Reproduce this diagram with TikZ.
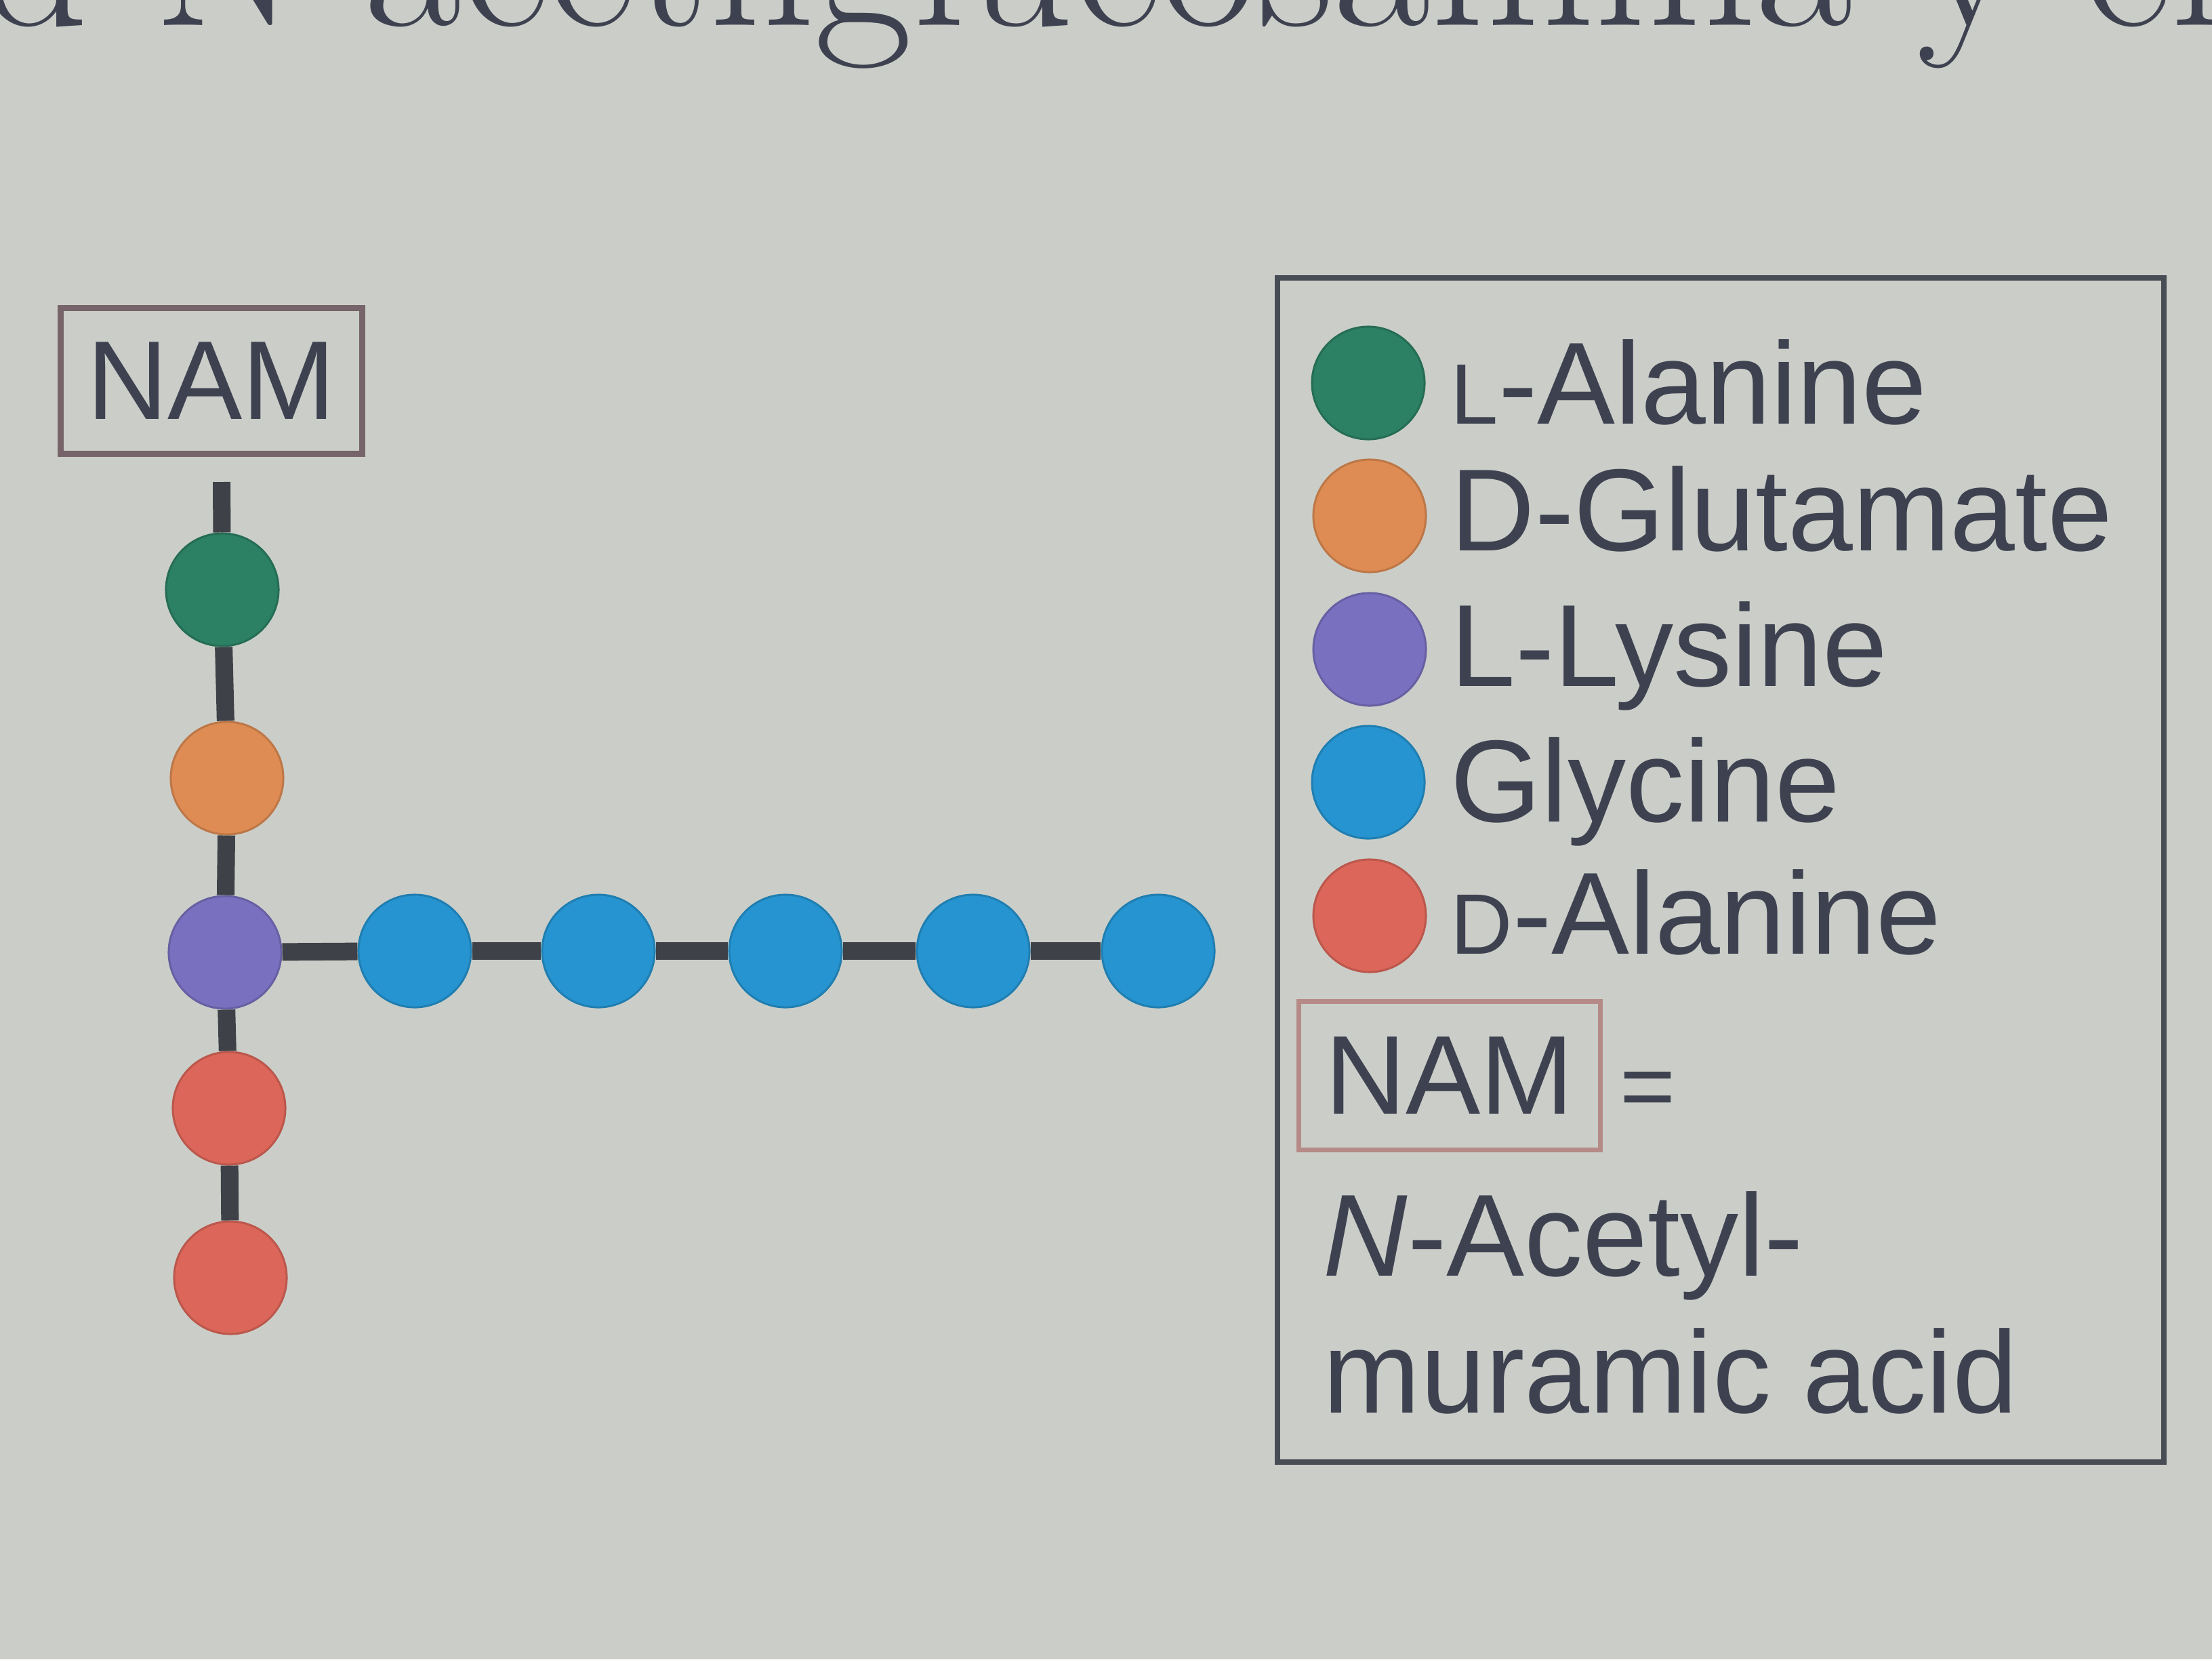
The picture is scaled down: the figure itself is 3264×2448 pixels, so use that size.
\documentclass[tikz,border=0pt]{standalone}
\usepackage{fontspec}
\newfontfamily\arialf{Liberation Sans}
\newcommand\labfont{\arialf\fontsize{49}{55}\selectfont}
\newcommand\namfont{\arialf\fontsize{47}{52}\selectfont}
\newcommand\smallcap[1]{{\fontsize{36}{36}\selectfont #1}}
\definecolor{bgc}{RGB}{203,206,200}
\definecolor{txt}{RGB}{62,66,80}
\definecolor{bondc}{RGB}{62,66,72}
\definecolor{cGreen}{RGB}{44,128,100}
\definecolor{cOrange}{RGB}{222,140,84}
\definecolor{cPurple}{RGB}{122,112,192}
\definecolor{cBlue}{RGB}{38,148,208}
\definecolor{cRed}{RGB}{220,102,90}
\definecolor{namA}{RGB}{118,100,106}
\definecolor{namB}{RGB}{182,138,134}
\definecolor{legc}{RGB}{72,76,84}
\begin{document}
\begin{tikzpicture}[x=0.01cm,y=-0.01cm,
  bond/.style={line width=0.26cm, draw=bondc},
  amino/.style={circle, minimum size=1.66cm, inner sep=0pt, line width=0.03cm},
  lab/.style={anchor=base west, inner sep=0pt, text=txt, font=\labfont},
  nambox/.style={draw, line width=0.09cm, minimum width=4.45cm, minimum height=2.15cm, inner sep=0pt, text=txt, font=\namfont},
  legbox/.style={draw=legc, line width=0.08cm, minimum width=13.08cm, minimum height=17.46cm, inner sep=0pt}]
\useasboundingbox (0,0) rectangle (3264,2448);
\fill[bgc] (0,0) rectangle (3264,2448);
\begin{scope}
\clip (0,0) rectangle (3264,2448);
\node[anchor=base west, inner sep=0pt, text=txt, font=\fontsize{89}{98}\selectfont] (head) at (-189,37) {nd N-acetilglucosamina y el};
\end{scope}
% peptide
\node[nambox, draw=namA] (nam) at (312,562) {NAM};
\coordinate (namlink) at (327,711);
\node[amino, fill=cGreen, draw=cGreen!85!black] (ala) at (328,870) {};
\node[amino, fill=cOrange, draw=cOrange!85!black] (glu) at (335,1148) {};
\node[amino, fill=cPurple, draw=cPurple!85!black] (lys) at (332,1405) {};
\node[amino, fill=cRed, draw=cRed!85!black] (dala1) at (338,1635) {};
\node[amino, fill=cRed, draw=cRed!85!black] (dala2) at (340,1885) {};
\node[amino, fill=cBlue, draw=cBlue!85!black] (gly1) at (612,1403) {};
\node[amino, fill=cBlue, draw=cBlue!85!black] (gly2) at (883,1403) {};
\node[amino, fill=cBlue, draw=cBlue!85!black] (gly3) at (1159,1403) {};
\node[amino, fill=cBlue, draw=cBlue!85!black] (gly4) at (1436,1403) {};
\node[amino, fill=cBlue, draw=cBlue!85!black] (gly5) at (1709,1403) {};
\draw[bond] (namlink) -- (ala);
\draw[bond] (ala) -- (glu);
\draw[bond] (glu) -- (lys);
\draw[bond] (lys) -- (dala1);
\draw[bond] (dala1) -- (dala2);
\draw[bond] (lys) -- (gly1);
\draw[bond] (gly1) -- (gly2);
\draw[bond] (gly2) -- (gly3);
\draw[bond] (gly3) -- (gly4);
\draw[bond] (gly4) -- (gly5);
% legend
\node[legbox] (legend) at (2539,1283) {};
\node[amino, fill=cGreen, draw=cGreen!85!black] (kala) at (2019,565) {};
\node[amino, fill=cOrange, draw=cOrange!85!black] (kglu) at (2021,761) {};
\node[amino, fill=cPurple, draw=cPurple!85!black] (klys) at (2021,958) {};
\node[amino, fill=cBlue, draw=cBlue!85!black] (kgly) at (2019,1154) {};
\node[amino, fill=cRed, draw=cRed!85!black] (kdala) at (2021,1351) {};
\node[lab] (tala) at (2140,625) {\smallcap{L}-Alanine};
\node[lab] (tglu) at (2140,812) {D-Glutamate};
\node[lab] (tlys) at (2140,1012) {L-Lysine};
\node[lab] (tgly) at (2140,1212) {Glycine};
\node[lab] (tdala) at (2140,1407) {\smallcap{D}-Alanine};
\node[nambox, draw=namB, line width=0.07cm, minimum width=4.45cm, minimum height=2.18cm] (namkey) at (2139,1587) {NAM};
\node[lab, font=\arialf\fontsize{40}{44}\selectfont] (eq) at (2390,1650) {=};
\node[lab] (tnam1) at (1952,1882) {{\itshape N}-Acetyl-};
\node[lab] (tnam2) at (1952,2084) {muramic acid};
\end{tikzpicture}
\end{document}
